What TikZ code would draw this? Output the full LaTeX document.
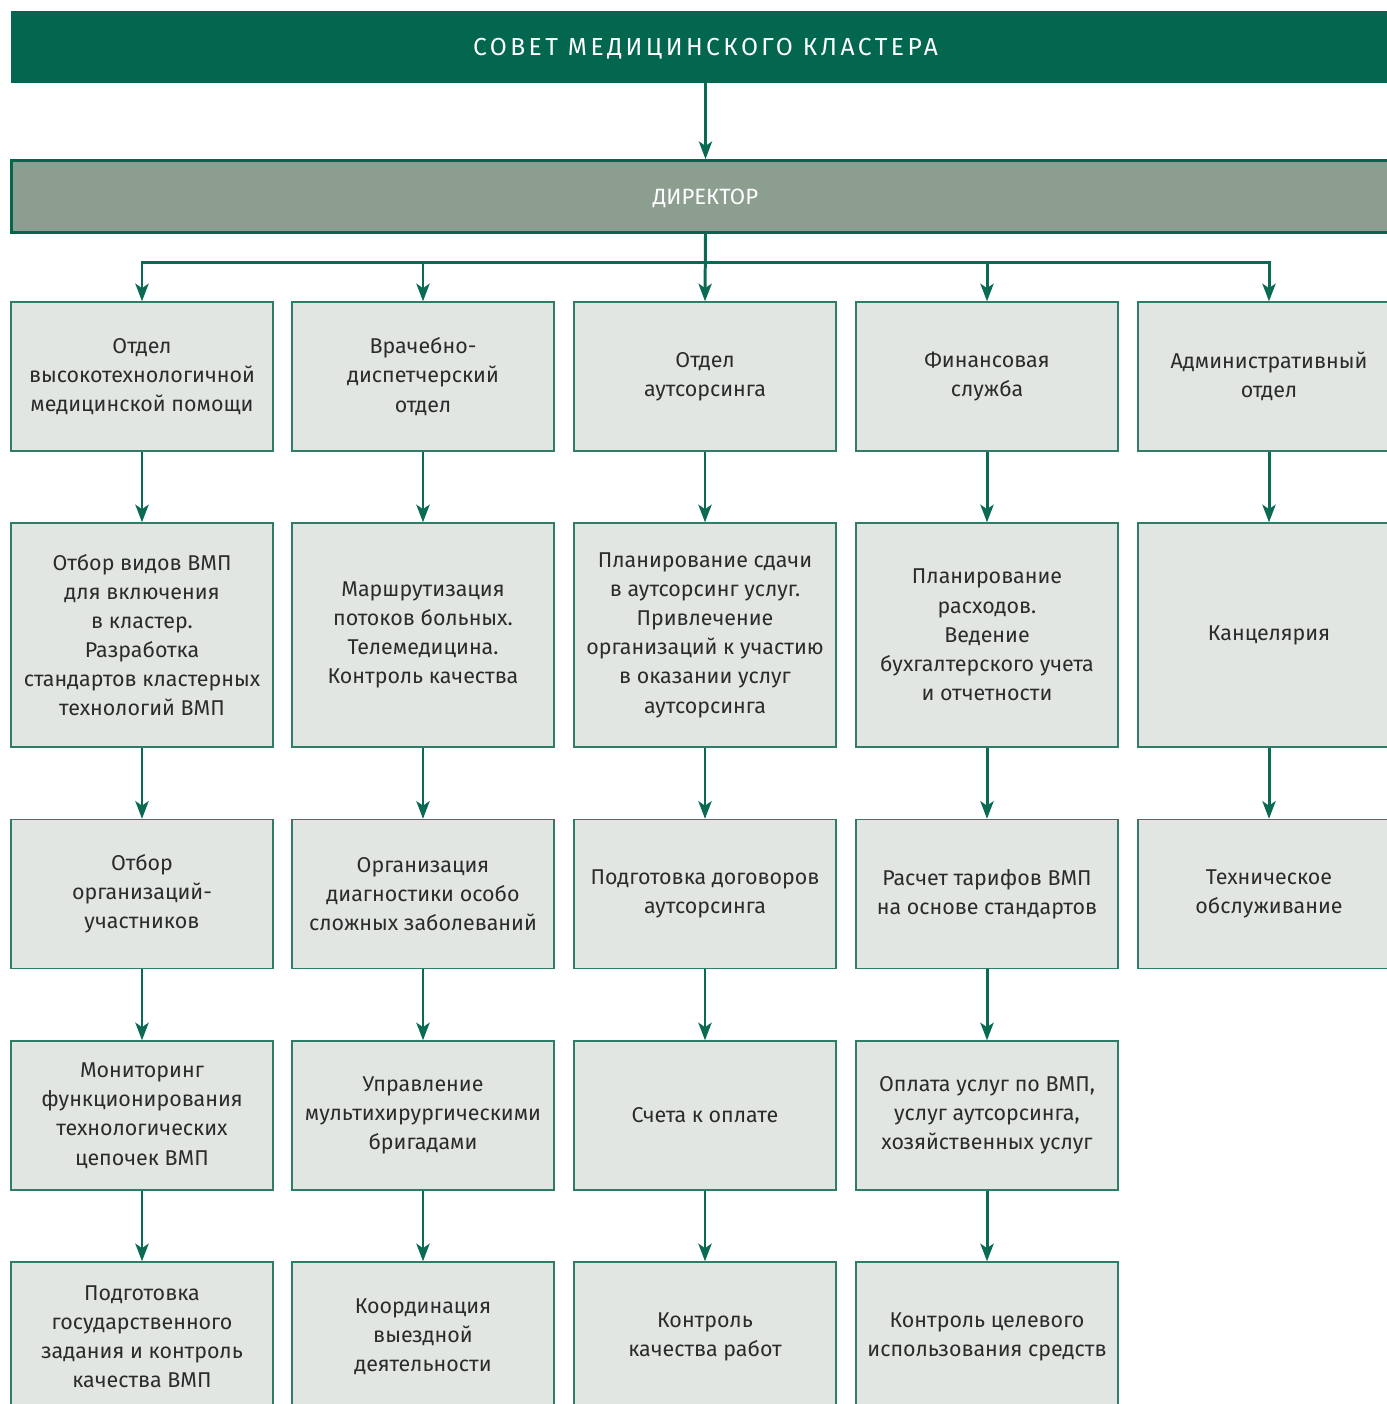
\documentclass[tikz,border=0pt]{standalone}
\usepackage{fontspec}
\setmainfont{Fira Sans}
\usepackage{xcolor}
\usepackage{tikz}
\usetikzlibrary{arrows.meta}

\definecolor{clustgreen}{HTML}{03664F}
\definecolor{linegreen}{HTML}{0B6A53}
\definecolor{dirgrey}{HTML}{8C9E90}
\definecolor{boxgrey}{HTML}{E1E6E2}
\definecolor{boxline}{HTML}{2F7D68}
\definecolor{txtgrey}{HTML}{2B2B2B}

\begin{document}
\begin{tikzpicture}[x=0.02cm, y=-0.02cm,
    every node/.style={font=\fontsize{12.2}{16.6}\selectfont, text=txtgrey},
    unitbox/.style={draw=boxline, line width=0.8pt, fill=boxgrey,
      minimum width=5.24cm, minimum height=2.98cm, inner sep=2pt, align=center},
    tallbox/.style={unitbox, minimum height=4.48cm},
    link/.style={draw=linegreen, line width=1.7pt,
      -{Stealth[length=10pt, width=7.5pt, inset=2.5pt]}}]
  \useasboundingbox (0,0) rectangle (1387,1404);
  \clip (0,0) rectangle (1387,1404);

  \node[fill=clustgreen, minimum width=27.78cm, minimum height=1.44cm, inner sep=0pt,
        text height=9.6pt, text depth=0pt, text=white,
        font=\fontsize{14}{16}\selectfont\addfontfeature{LetterSpace=14}]
    (council) at (705.5,47) {СОВЕТ МЕДИЦИНСКОГО КЛАСТЕРА};
  \node[draw=clustgreen, line width=1.6pt, fill=dirgrey, minimum width=27.78cm,
        minimum height=1.44cm, inner sep=0pt, text height=8.7pt, text depth=0pt,
        text=white, font=\fontsize{12.6}{16}\selectfont]
    (dir) at (705.5,196.5) {ДИРЕКТОР};

  % first row: departments
  \node[unitbox] (a1) at (142,376.5) {Отдел\\высокотехнологичной\\медицинской помощи};
  \node[unitbox] (b1) at (423,376.5) {Врачебно-\\диспетчерский\\отдел};
  \node[unitbox] (c1) at (705,376.5) {Отдел\\аутсорсинга};
  \node[unitbox] (d1) at (987,376.5) {Финансовая\\служба};
  \node[unitbox] (e1) at (1269,376.5) {Административный\\отдел};

  \node[tallbox] (a2) at (142,635) {Отбор видов ВМП\\для включения\\в кластер.\\Разработка\\стандартов кластерных\\технологий ВМП};
  \node[tallbox] (b2) at (423,635) {Маршрутизация\\потоков больных.\\Телемедицина.\\Контроль качества};
  \node[tallbox] (c2) at (705,635) {Планирование сдачи\\в аутсорсинг услуг.\\Привлечение\\организаций к участию\\в оказании услуг\\аутсорсинга};
  \node[tallbox] (d2) at (987,635) {Планирование\\расходов.\\Ведение\\бухгалтерского учета\\и отчетности};
  \node[tallbox] (e2) at (1269,635) {Канцелярия};

  \node[unitbox] (a3) at (142,894) {Отбор\\организаций-\\участников};
  \node[unitbox] (b3) at (423,894) {Организация\\диагностики особо\\сложных заболеваний};
  \node[unitbox] (c3) at (705,894) {Подготовка договоров\\аутсорсинга};
  \node[unitbox] (d3) at (987,894) {Расчет тарифов ВМП\\на основе стандартов};
  \node[unitbox] (e3) at (1269,894) {Техническое\\обслуживание};

  \node[unitbox] (a4) at (142,1115.5) {Мониторинг\\функционирования\\технологических\\цепочек ВМП};
  \node[unitbox] (b4) at (423,1115.5) {Управление\\мультихирургическими\\бригадами};
  \node[unitbox] (c4) at (705,1115.5) {Счета к оплате};
  \node[unitbox] (d4) at (987,1115.5) {Оплата услуг по ВМП,\\услуг аутсорсинга,\\хозяйственных услуг};

  \node[unitbox] (a5) at (142,1336.5) {Подготовка\\государственного\\задания и контроль\\качества ВМП};
  \node[unitbox] (b5) at (423,1336.5) {Координация\\выездной\\деятельности};
  \node[unitbox] (c5) at (705,1336.5) {Контроль\\качества работ};
  \node[unitbox] (d5) at (987,1336.5) {Контроль целевого\\использования средств};

  % council to director, director to departments
  \draw[link] (council.south) -- (dir.south |- dir.north);
  \draw[link] (dir.south) -- ++(0,29) -| (a1.north);
  \draw[link] (dir.south) -- ++(0,29) -| (b1.north);
  \draw[link] (dir.south) -- (c1.north);
  \draw[link] (dir.south) -- ++(0,29) -| (d1.north);
  \draw[link] (dir.south) -- ++(0,29) -| (e1.north);

  % down the columns
  \draw[link] (a1) -- (a2);
  \draw[link] (a2) -- (a3);
  \draw[link] (a3) -- (a4);
  \draw[link] (a4) -- (a5);
  \draw[link] (b1) -- (b2);
  \draw[link] (b2) -- (b3);
  \draw[link] (b3) -- (b4);
  \draw[link] (b4) -- (b5);
  \draw[link] (c1) -- (c2);
  \draw[link] (c2) -- (c3);
  \draw[link] (c3) -- (c4);
  \draw[link] (c4) -- (c5);
  \draw[link] (d1) -- (d2);
  \draw[link] (d2) -- (d3);
  \draw[link] (d3) -- (d4);
  \draw[link] (d4) -- (d5);
  \draw[link] (e1) -- (e2);
  \draw[link] (e2) -- (e3);
\end{tikzpicture}
\end{document}
